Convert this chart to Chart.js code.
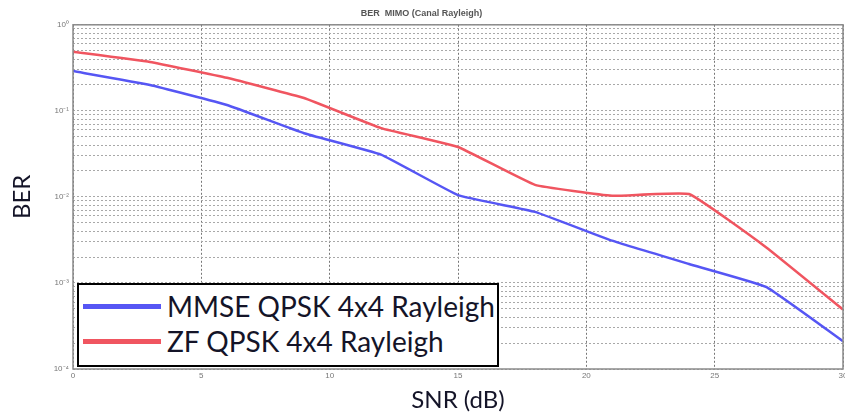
<!DOCTYPE html>
<html>
<head>
<meta charset="utf-8">
<script src="https://cdn.jsdelivr.net/npm/chart.js@4.4.0/dist/chart.umd.min.js"></script>
<style>
  html, body { margin: 0; padding: 0; background: #fff; }
  #wrap { position: relative; width: 845px; height: 415px; }
  #legend {
    position: absolute; left: 77px; top: 283px; width: 418px; height: 80px;
    border: 2px solid #000; background: #fff;
    font-family: Lato, "Liberation Sans", sans-serif; font-size: 28px; color: #141428;
  }
  .item { position: absolute; left: 4px; display: flex; align-items: center; }
  .swatch { width: 78px; height: 5px; margin-right: 6px; }
</style>
</head>
<body>
<div id="wrap">
  <canvas id="berChart" width="845" height="415"></canvas>
  <div id="legend"></div>
</div>
<script>
// SNR values (dB)
const snrValues = [0, 3, 6, 9, 12, 15, 18, 21, 24, 27, 30];

// BER curves
const mmseBer = [0.29, 0.20, 0.117, 0.055, 0.031, 0.0105, 0.0067, 0.0031, 0.00166, 0.00090, 0.00021];
const zfBer = [0.485, 0.37, 0.242, 0.141, 0.063, 0.038, 0.0138, 0.0103, 0.0108, 0.0026, 0.00049];

const seriesNames = ['MMSE QPSK 4x4 Rayleigh', 'ZF QPSK 4x4 Rayleigh'];
const seriesColors = ['#5656f4', '#f05560'];

// x tick marks and y decade tick labels
const xTicks = [0, 5, 10, 15, 20, 25, 30];
const yDecades = [-4, -3, -2, -1, 0];
const supers = { '-': '⁻', '0': '⁰', '1': '¹', '2': '²', '3': '³', '4': '⁴' };

const ctx = document.getElementById('berChart').getContext('2d');

// Box around the plot area
const frame = {
    id: 'frame',
    afterDraw(chart) {
        const a = chart.chartArea;
        const c = chart.ctx;
        c.save();
        c.strokeStyle = '#8a8a8a';
        c.lineWidth = 1.5;
        c.strokeRect(a.left, a.top, a.right - a.left, a.bottom - a.top);
        c.restore();
    }
};

new Chart(ctx, {
    type: 'line',
    data: {
        datasets: [
            { label: seriesNames[0], data: snrValues.map((x, i) => ({ x: x, y: mmseBer[i] })) },
            { label: seriesNames[1], data: snrValues.map((x, i) => ({ x: x, y: zfBer[i] })) }
        ].map((d, i) => Object.assign(d, {
            borderColor: seriesColors[i],
            borderWidth: 2.5,
            pointRadius: 0,
            tension: 0.1,
            fill: false
        }))
    },
    options: {
        responsive: false,
        animation: false,
        layout: { padding: { right: 2, left: 0 } },
        plugins: {
            legend: { display: false },
            tooltip: { enabled: false },
            title: {
                display: true,
                text: 'BER  MIMO (Canal Rayleigh)',
                color: '#555',
                font: { family: 'Liberation Sans', size: 9 },
                padding: { top: 8, bottom: 6 }
            }
        },
        scales: {
            x: {
                type: 'linear',
                min: 0,
                max: 30,
                afterBuildTicks(scale) { scale.ticks = xTicks.map(v => ({ value: v })); },
                afterFit(scale) { scale.height = 46; scale.paddingRight = 0; scale.paddingLeft = 0; },
                ticks: { color: '#777', font: { family: 'Liberation Sans', size: 8 }, padding: 2, maxRotation: 0 },
                grid: { color: '#777', lineWidth: 1, drawTicks: false },
                border: { display: false, dash: [2, 2] },
                title: {
                    display: true,
                    text: 'SNR (dB)',
                    color: '#141428',
                    font: { family: 'Lato', size: 24 },
                    padding: { top: 0, bottom: 0 }
                }
            },
            y: {
                type: 'logarithmic',
                min: 1e-4,
                max: 1,
                afterBuildTicks(scale) {
                    const t = [];
                    yDecades.forEach(e => {
                        for (let m = 1; m <= 9; m++) {
                            const v = m * Math.pow(10, e);
                            if (v <= 1.0000001) t.push({ value: v, major: m === 1 });
                        }
                    });
                    scale.ticks = t;
                },
                afterFit(scale) { scale.width = 73; },
                ticks: {
                    autoSkip: false,
                    color: '#777',
                    font: { family: 'Liberation Sans', size: 8 },
                    padding: 4,
                    callback(value) {
                        const e = Math.round(Math.log10(value));
                        if (Math.abs(value - Math.pow(10, e)) > 1e-12) return '';
                        return '10' + String(e).split('').map(ch => supers[ch]).join('');
                    }
                },
                grid: { color: '#a8a8a8', lineWidth: 1, drawTicks: false },
                border: { display: false, dash: [2, 2] },
                title: {
                    display: true,
                    text: 'BER',
                    color: '#141428',
                    font: { family: 'Lato', size: 24 },
                    padding: { top: 8, bottom: 0 }
                }
            }
        }
    },
    plugins: [frame]
});

// Legend box inside the plot
const legendBox = document.getElementById('legend');
seriesNames.forEach((name, i) => {
    const row = document.createElement('div');
    row.className = 'item';
    row.style.top = (i === 0 ? 4 : 39) + 'px';
    const sw = document.createElement('span');
    sw.className = 'swatch';
    sw.style.background = seriesColors[i];
    const txt = document.createElement('span');
    txt.textContent = name;
    row.appendChild(sw);
    row.appendChild(txt);
    legendBox.appendChild(row);
});
</script>
</body>
</html>
